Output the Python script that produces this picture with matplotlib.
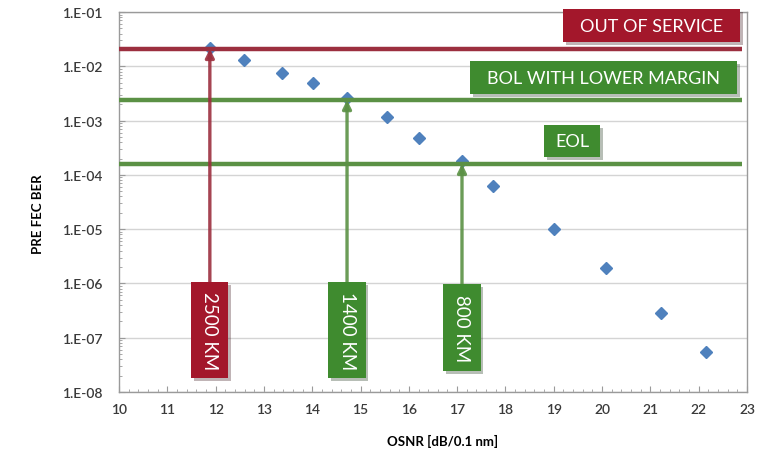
import matplotlib
matplotlib.use("Agg")
import matplotlib.pyplot as plt
import numpy as np
from matplotlib.patches import Rectangle
from matplotlib.ticker import FixedLocator, LogLocator, MultipleLocator, FuncFormatter
import matplotlib.patheffects as pe

plt.rcParams['font.family'] = ['Lato', 'DejaVu Sans']

# ---- data ----
osnr = [11.88, 12.59, 13.37, 14.02, 14.72, 15.55, 16.21, 17.10, 17.74, 19.0, 20.08, 21.22, 22.15]
ber = [2.2e-2, 1.3e-2, 7.6e-3, 4.9e-3, 2.6e-3, 1.17e-3, 4.8e-4, 1.8e-4, 6.3e-5, 1.0e-5, 1.9e-6, 2.8e-7, 5.5e-8]

threshold_names = ["OUT OF SERVICE", "BOL WITH LOWER MARGIN", "EOL"]
threshold_ber = [2.1e-2, 2.4e-3, 1.6e-4]

distance_labels = ["2500 KM", "1400 KM", "800 KM"]
distance_osnr = [11.88, 14.72, 17.10]
distance_ber = [2.1e-2, 2.4e-3, 1.6e-4]

xticks = list(range(10, 24))
yticks = [1e-8, 1e-7, 1e-6, 1e-5, 1e-4, 1e-3, 1e-2, 1e-1]
ytick_labels = ["1.E-08", "1.E-07", "1.E-06", "1.E-05", "1.E-04", "1.E-03", "1.E-02", "1.E-01"]

RED_BOX = "#a3172b"
RED_LINE = "#9c2f3f"
GREEN_BOX = "#3f8b2f"
GREEN_LINE = "#5b9145"
BLUE = "#4f81bd"

fig = plt.figure(figsize=(7.76, 4.52), dpi=100)
ax = fig.add_axes([0.1534, 0.1305, 0.8092, 0.8407])
ax.set_yscale("log")
ax.set_xlim(10, 23)
ax.set_ylim(1e-8, 1e-1)

# grid
ax.yaxis.set_major_locator(FixedLocator(yticks))
ax.yaxis.set_major_formatter(FuncFormatter(lambda v, p: ytick_labels[yticks.index(v)] if v in yticks else ""))
ax.yaxis.set_minor_locator(LogLocator(base=10, subs=np.arange(2, 10)))
ax.yaxis.set_minor_formatter(FuncFormatter(lambda v, p: ""))
ax.xaxis.set_major_locator(FixedLocator(xticks))
ax.xaxis.set_minor_locator(MultipleLocator(0.2))
ax.grid(axis="y", which="major", color="#d4d4d4", linewidth=1.0, zorder=0)
ax.set_axisbelow(True)

for s in ax.spines.values():
    s.set_color("#9a9a9a")
    s.set_linewidth(1.0)

ax.tick_params(axis="both", which="both", direction="in", color="#9a9a9a")
ax.tick_params(axis="y", which="major", length=4, pad=12, labelsize=10, labelcolor="#3a3a3a")
ax.tick_params(axis="x", which="major", length=4, pad=8, labelsize=10, labelcolor="#3a3a3a")
ax.tick_params(axis="both", which="minor", length=2.5)
for lab in ax.get_xticklabels() + ax.get_yticklabels():
    lab.set_fontweight("semibold")

# threshold lines
line_colors = [RED_LINE, GREEN_LINE, GREEN_LINE]
for yv, c in zip(threshold_ber, line_colors):
    ax.plot([10, 22.9], [yv, yv], color=c, linewidth=3.2, solid_capstyle="butt", zorder=3)

# data points
ax.plot(osnr, ber, linestyle="none", marker="D", markersize=6.5, color=BLUE,
        markeredgecolor=BLUE, zorder=2.5)

# vertical arrows + boxes
box_colors = [RED_BOX, GREEN_BOX, GREEN_BOX]
arrow_colors = [RED_LINE, GREEN_LINE, GREEN_LINE]
box_top = [0.289, 0.289, 0.284]
box_bottom = [0.037, 0.037, 0.055]
trans = ax.get_xaxis_transform()
shadow = [pe.SimplePatchShadow(offset=(2, -2), alpha=0.3), pe.Normal()]
for lab, xv, yv, bc, ac, bt, bb in zip(distance_labels, distance_osnr, distance_ber,
                                       box_colors, arrow_colors, box_top, box_bottom):
    ytop_data = 10 ** (-8 + 7 * bt)
    ax.annotate("", xy=(xv, yv), xytext=(xv, ytop_data),
                arrowprops=dict(arrowstyle="-|>,head_length=0.5,head_width=0.25",
                                color=ac, linewidth=2.4, shrinkA=0, shrinkB=0, alpha=0.9),
                zorder=5)
    w = 0.385
    r = Rectangle((xv - w, bb), 2 * w, bt - bb, transform=trans, facecolor=bc,
                  edgecolor="none", zorder=6, path_effects=shadow)
    ax.add_patch(r)
    ax.text(xv, (bt + bb) / 2, lab, transform=trans, rotation=-90, ha="center", va="center",
            color="white", fontsize=13.5, zorder=7)

# threshold label boxes (axes coords)
tb = [(0.707, 0.921, 0.989, 1.008), (0.559, 0.784, 0.984, 0.871), (0.677, 0.618, 0.766, 0.703)]
tcolors = [RED_BOX, GREEN_BOX, GREEN_BOX]
for name, (x0, y0, x1, y1), c in zip(threshold_names, tb, tcolors):
    r = Rectangle((x0, y0), x1 - x0, y1 - y0, transform=ax.transAxes, facecolor=c,
                  edgecolor="none", zorder=6, clip_on=False, path_effects=shadow)
    ax.add_patch(r)
    ax.text((x0 + x1) / 2, (y0 + y1) / 2, name, transform=ax.transAxes, ha="center",
            va="center", color="white", fontsize=13, zorder=7)

ax.set_xlabel("OSNR [dB/0.1 nm]", fontsize=9.5, fontweight="bold")
ax.xaxis.set_label_coords(0.516, -0.11)
ax.set_ylabel("PRE FEC BER", fontsize=9.5, fontweight="bold")
ax.yaxis.set_label_coords(-0.12, 0.47)

fig.savefig("out.png", dpi=100)
